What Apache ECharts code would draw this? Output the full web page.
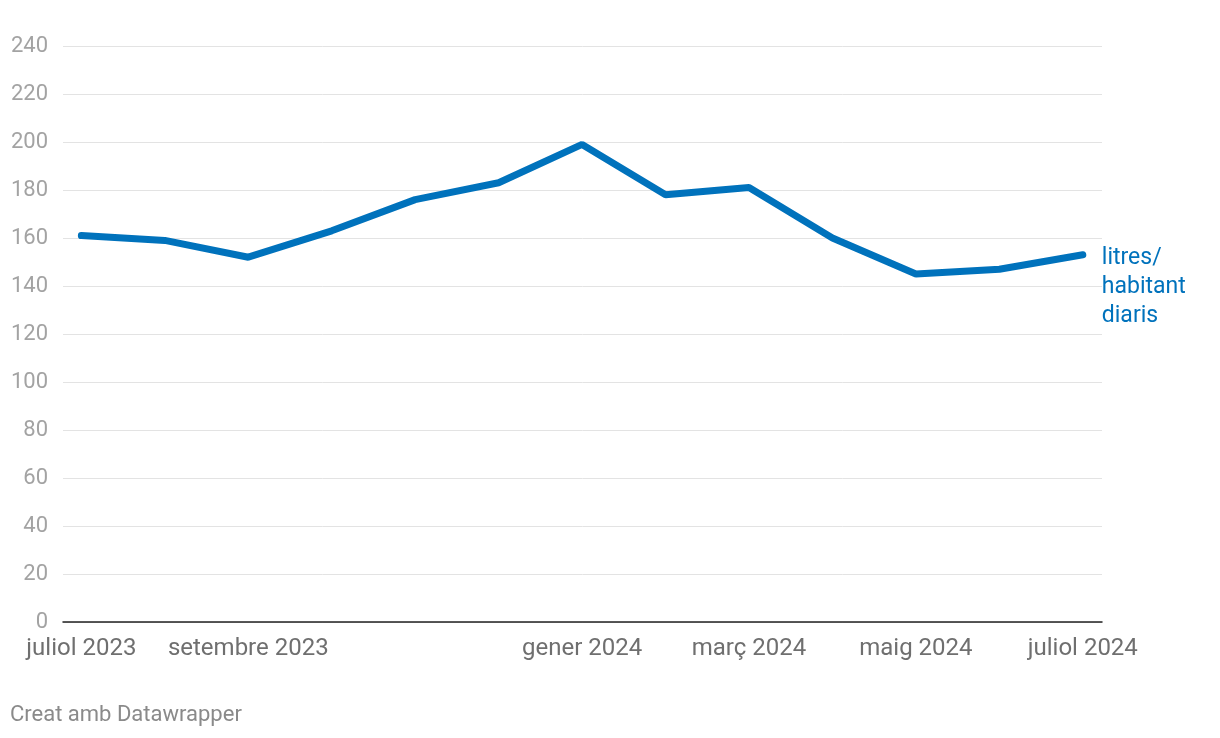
<!DOCTYPE html>
<html>
<head>
<meta charset="utf-8">
<script src="https://cdn.jsdelivr.net/npm/echarts@6/dist/echarts.min.js"></script>
<style>
  html, body { margin: 0; padding: 0; background: #fff; }
  #main { width: 1220px; height: 738px; }
</style>
</head>
<body>
<div id="main"></div>
<script>
// mesos (juliol 2023 - juliol 2024)
var mesos = ['juliol 2023', 'agost 2023', 'setembre 2023', 'octubre 2023', 'novembre 2023', 'desembre 2023',
    'gener 2024', 'febrer 2024', 'març 2024', 'abril 2024', 'maig 2024', 'juny 2024', 'juliol 2024'];
// consum, litres/habitant diaris
var consum = [161, 159, 152, 163, 176, 183, 199, 178, 181, 160, 145, 147, 153];
// mesos amb etiqueta a l'eix
var mesosEtiqueta = [0, 2, 6, 8, 10, 12];
var yTicks = [0, 20, 40, 60, 80, 100, 120, 140, 160, 180, 200, 220, 240];

var chartDom = document.getElementById('main');
var myChart = echarts.init(chartDom);

var dades = consum.map(function (v, i) { return [i, v]; });

var option = {
    animation: false,
    textStyle: { fontFamily: 'Roboto' },
    grid: {
        left: 63,
        right: 118,
        top: 46,
        bottom: 116,
        containLabel: false,
        outerBoundsMode: 'none'
    },
    xAxis: {
        type: 'value',
        min: -0.22,
        max: 12.23,
        splitLine: { show: false },
        axisLine: { show: true, onZero: false, lineStyle: { color: '#222', width: 1.5 } },
        axisTick: { show: false },
        axisLabel: {
            customValues: mesosEtiqueta,
            formatter: function (v) { return mesos[Math.round(v)]; },
            color: '#6f6f6f',
            fontSize: 24,
            margin: 15
        }
    },
    yAxis: {
        type: 'value',
        min: 0,
        max: 240,
        interval: 20,
        axisLine: { show: false },
        axisTick: { show: false },
        splitLine: { lineStyle: { color: '#e3e3e3', width: 1 } },
        axisLabel: {
            color: '#a3a3a3',
            fontSize: 22,
            margin: 15,
            formatter: function (v) { return yTicks.indexOf(v) >= 0 ? String(v) : ''; }
        }
    },
    series: [
        {
            type: 'line',
            data: dades,
            showSymbol: false,
            symbol: 'none',
            lineStyle: { color: '#0072bc', width: 7, cap: 'round' },
            endLabel: {
                show: true,
                formatter: 'litres/\nhabitant\ndiaris',
                color: '#0072bc',
                fontSize: 23,
                lineHeight: 29,
                align: 'left',
                distance: 19,
                offset: [0, 32]
            }
        }
    ],
    graphic: [
        {
            type: 'text',
            left: 10,
            top: 704,
            style: {
                text: 'Creat amb Datawrapper',
                fill: '#8a8a8a',
                font: '22px Roboto'
            }
        }
    ]
};

option && myChart.setOption(option);
</script>
</body>
</html>
